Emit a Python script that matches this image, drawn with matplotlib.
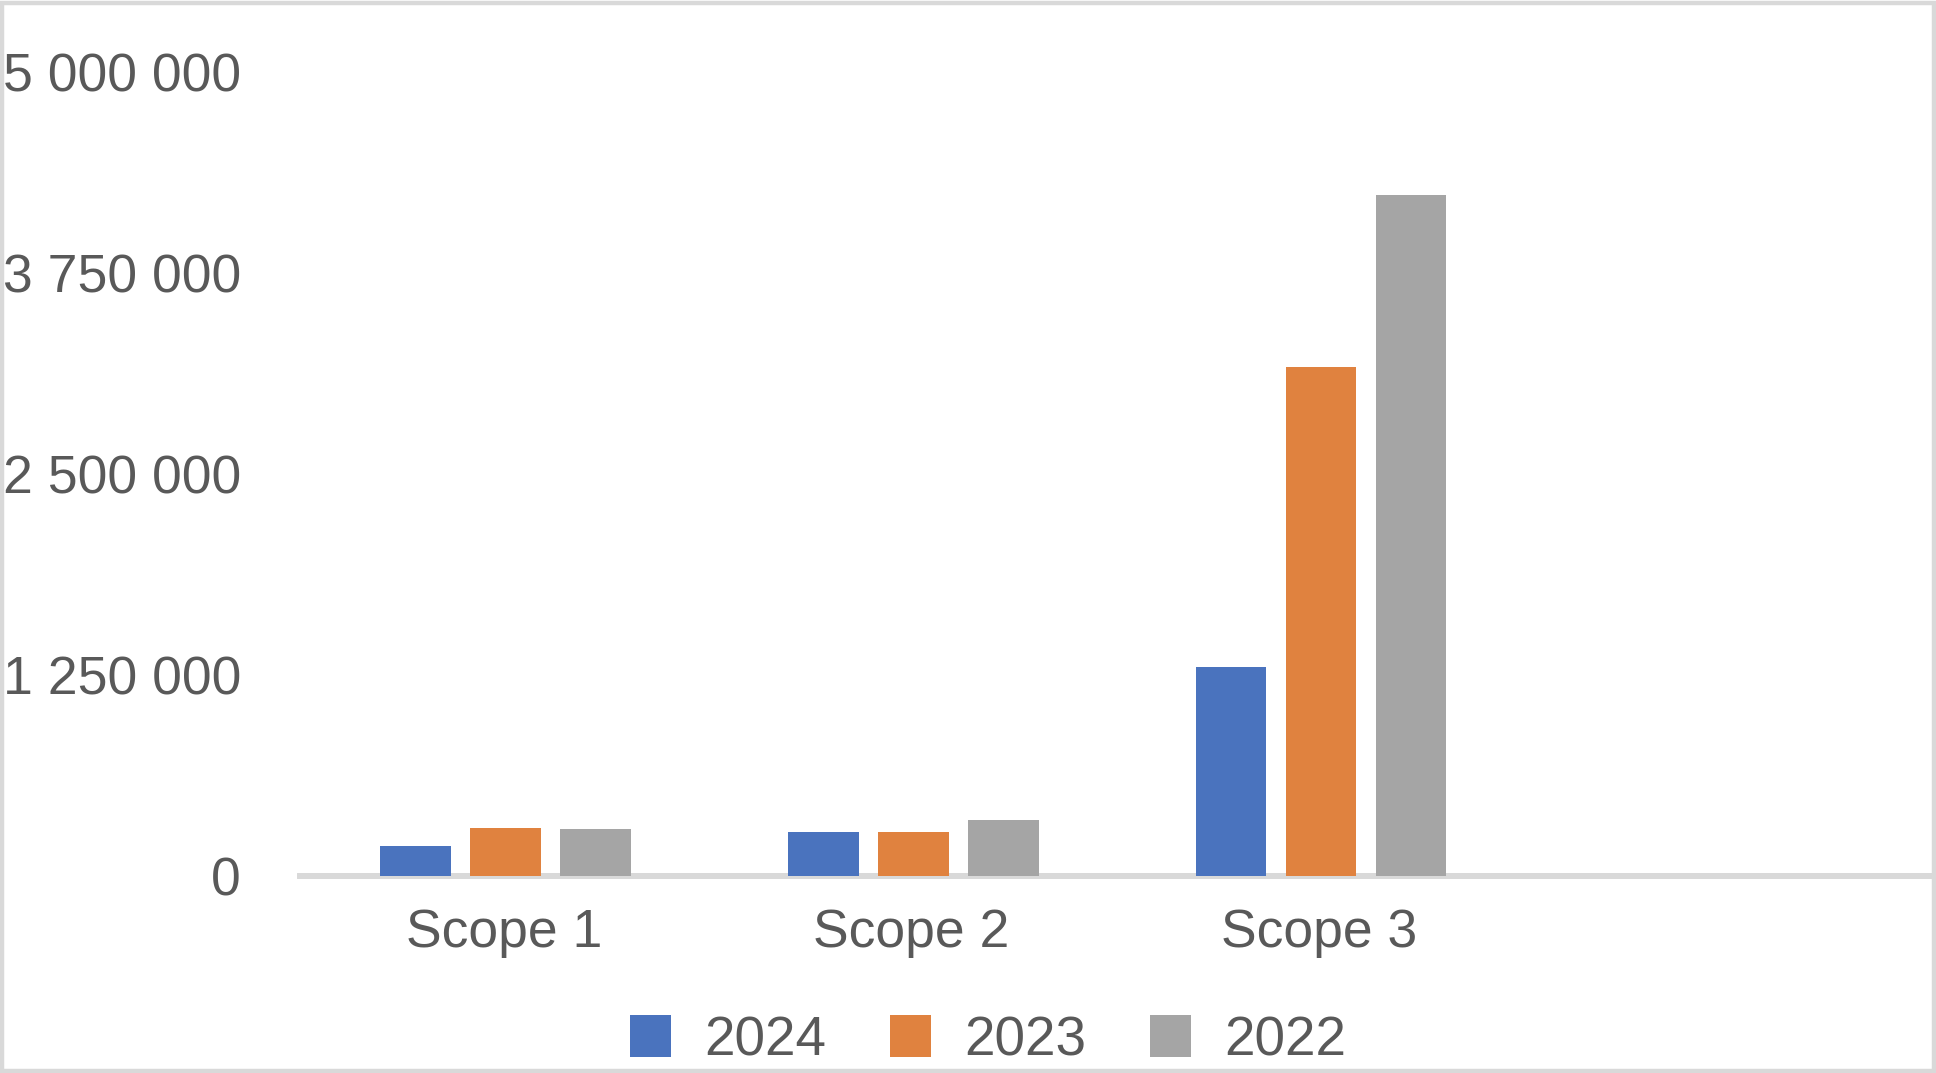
import numpy as np
import matplotlib
matplotlib.use("Agg")
import matplotlib.pyplot as plt
from matplotlib.patches import Rectangle, Patch

plt.rcParams['font.family'] = ['Liberation Sans', 'DejaVu Sans']

# data
categories = ['Scope 1', 'Scope 2', 'Scope 3', '']
years = ['2024', '2023', '2022']
v2024 = [187000, 274000, 1300000, np.nan]
v2023 = [299000, 274000, 3168000, np.nan]
v2022 = [292000, 348000, 4238000, np.nan]
yticks = [0, 1250000, 2500000, 3750000, 5000000]

colors = ['#4A73BE', '#E0823F', '#A5A5A5']
txt_col = '#595959'
line_col = '#D9D9D9'

W, H = 1936, 1073
fig = plt.figure(figsize=(W / 100, H / 100), dpi=100)
fig.set_facecolor('white')
ax = fig.add_axes([300 / W, 1 - 876 / H, 1631 / W, (876 - 72.5) / H])

x = np.arange(len(categories))
width = 0.174
step = 0.2207
for i, (vals, c) in enumerate(zip([v2024, v2023, v2022], colors)):
    ax.bar(x + (i - 1) * step + 0.004, vals, width, color=c, zorder=3, label=years[i])

ax.set_xlim(-0.5, len(categories) - 0.5)
ax.set_ylim(0, 5000000)
ax.set_yticks(yticks)
ax.set_yticklabels([f"{v:,}".replace(',', ' ') for v in yticks])
ax.set_xticks(x)
ax.set_xticklabels(categories)

for s in ['top', 'left', 'right']:
    ax.spines[s].set_visible(False)
ax.spines['bottom'].set_color(line_col)
ax.spines['bottom'].set_linewidth(4.3)
ax.spines['bottom'].set_zorder(2)

ax.tick_params(axis='y', length=0, pad=42.5, labelsize=38.5, labelcolor=txt_col)
ax.tick_params(axis='x', length=0, pad=23, labelsize=38.5, labelcolor=txt_col)

handles = [Patch(facecolor=c, edgecolor='none') for c in colors]
fig.legend(handles, years, loc='center', bbox_to_anchor=(988 / W, 1 - 1041 / H),
           ncol=3, frameon=False, fontsize=39.5, labelcolor=txt_col,
           handlelength=0.75, handleheight=0.78, handletextpad=0.6,
           columnspacing=1.17, borderpad=0, borderaxespad=0)

# light grey outer frame
fig.patches.append(Rectangle((1.5 / W, 2.5 / H), 1932 / W, 1068 / H,
                             transform=fig.transFigure, fill=False,
                             edgecolor=line_col, linewidth=3.2))

fig.savefig('out.png', dpi=100, facecolor='white')
